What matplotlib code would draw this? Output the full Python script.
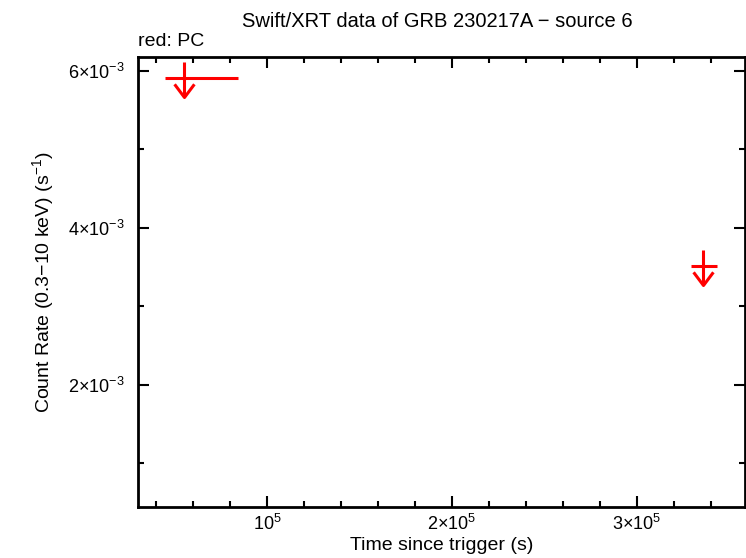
import matplotlib
matplotlib.use('Agg')
import matplotlib.pyplot as plt
from matplotlib.path import Path
from matplotlib.ticker import FixedLocator, MultipleLocator

plt.rcParams['font.family'] = ['Liberation Sans', 'DejaVu Sans']
plt.rcParams['mathtext.fontset'] = 'custom'
plt.rcParams['mathtext.rm'] = 'Liberation Sans'
plt.rcParams['mathtext.it'] = 'Liberation Sans'

# upper limits (PC mode)
time = [55100, 335700]
time_lo = [44900, 329200]
time_hi = [84300, 343200]
rate = [5.905e-3, 3.51e-3]
bar_top = [6.11e-3, 3.71e-3]
bar_bottom = [5.66e-3, 3.27e-3]

xticks = [1e5, 2e5, 3e5]
xticklabels = [r'$10^{5}$', r'$2{\times}10^{5}$', r'$3{\times}10^{5}$']
yticks = [2e-3, 4e-3, 6e-3]
yticklabels = [r'$2{\times}10^{-3}$', r'$4{\times}10^{-3}$', r'$6{\times}10^{-3}$']

figure = plt.figure(figsize=(7.46, 5.58), dpi=100)
axes = figure.add_axes([0.185, 0.0914, 0.8137, 0.8056])

xerr = [[t - lo for t, lo in zip(time, time_lo)], [hi - t for t, hi in zip(time, time_hi)]]
yerr = [[r - b for r, b in zip(rate, bar_bottom)], [t - r for r, t in zip(rate, bar_top)]]
axes.errorbar(time, rate, xerr=xerr, yerr=yerr, fmt='none', ecolor='red',
              elinewidth=2.2, capsize=0)

# arrow heads at the bottom of each bar
vee = Path([(-0.75, 1), (0, 0), (0.75, 1)], [Path.MOVETO, Path.LINETO, Path.LINETO])
axes.plot(time, bar_bottom, linestyle='none', marker=vee, markersize=19,
          markerfacecolor='none', markeredgecolor='red', markeredgewidth=2.2)

axes.set_xlim(30300, 358400)
axes.set_ylim(0.44e-3, 6.166e-3)

axes.xaxis.set_major_locator(FixedLocator(xticks))
axes.set_xticklabels(xticklabels)
axes.xaxis.set_minor_locator(MultipleLocator(2e4))
axes.yaxis.set_major_locator(FixedLocator(yticks))
axes.set_yticklabels(yticklabels)
axes.yaxis.set_minor_locator(MultipleLocator(1e-3))

axes.tick_params(which='both', direction='in', top=True, right=True,
                 labelsize=13, width=1.5, color='black')
axes.tick_params(which='major', length=8)
axes.tick_params(axis='x', which='major', pad=5)
axes.tick_params(axis='y', which='major', pad=10)
axes.tick_params(which='minor', length=4)
for spine in axes.spines.values():
    spine.set_linewidth(2)

axes.set_xlabel('Time since trigger (s)', fontsize=14, labelpad=2)
axes.set_ylabel(r'Count Rate (0.3$-$10 keV) (s$^{-1}$)', fontsize=14, labelpad=8)
figure.text(0.586, 0.962, 'Swift/XRT data of GRB 230217A \u2212 source 6',
            ha='center', va='center', fontsize=14.5)
figure.text(0.185, 0.925, 'red: PC', ha='left', va='center', fontsize=14)

figure.savefig('out.png', dpi=100)
